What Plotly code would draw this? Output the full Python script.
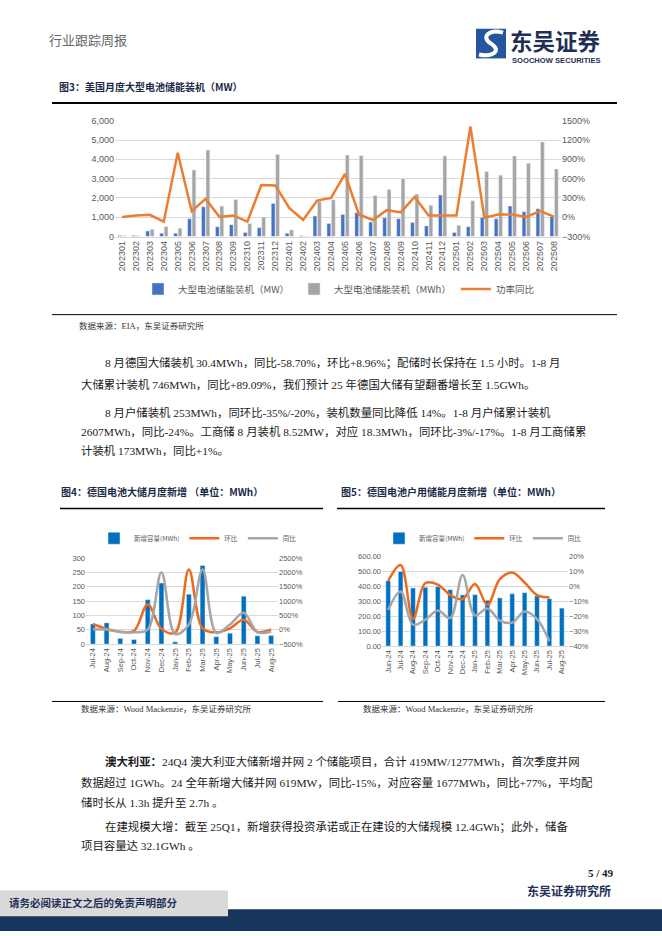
import plotly.graph_objects as go

W, H = 662, 936
def X(p): return p / W
def Y(p): return 1 - p / H

SANS = "Liberation Sans, Noto Sans CJK SC, sans-serif"
SERIF = "Liberation Serif, Noto Sans CJK SC, serif"
CJK = "Noto Sans CJK SC, sans-serif"

# ---------------- data: chart 3 (US monthly utility-scale battery storage) ----------------
months3 = ["202301", "202302", "202303", "202304", "202305", "202306", "202307", "202308",
           "202309", "202310", "202311", "202312", "202401", "202402", "202403", "202404",
           "202405", "202406", "202407", "202408", "202409", "202410", "202411", "202412",
           "202501", "202502", "202503", "202504", "202505", "202506", "202507", "202508"]
mw3 = [50, 50, 290, 170, 170, 920, 1540, 500, 615, 205, 460, 1710, 170, 35, 1060, 680,
       1145, 1230, 750, 975, 920, 720, 550, 2150, 205, 510, 990, 920, 1575, 1280, 1435, 1025]
mwh3 = [40, 40, 375, 510, 430, 3450, 4480, 1575, 1915, 680, 1010, 4250, 340, 20, 1830, 1900,
        4220, 4190, 2120, 2430, 2990, 2190, 1620, 4170, 580, 1850, 3370, 3180, 4170, 3795, 4900, 3500]
yoy3 = [3, 28, 38, -69, 1002, 95, 285, 3, 28, -69, 500, 495, 146, -43, 259, 300,
        674, 43, -43, 110, 74, 315, 28, 28, 28, 1412, -8, 43, 43, 3, 95, 8]

# ---------------- data: chart 4 (Germany utility-scale) ----------------
months4 = ["Jul-24", "Aug-24", "Sep-24", "Oct-24", "Nov-24", "Dec-24", "Jan-25",
           "Feb-25", "Mar-25", "Apr-25", "May-25", "Jun-25", "Jul-25", "Aug-25"]
cap4 = [70, 74, 20, 16, 155, 213, 8, 174, 274, 26, 38, 167, 29, 30]
mom4 = [200, 30, -70, -40, 880, 30, -100, 2100, 50, -90, 50, 350, -80, 10]
yoy4 = [20, 5, -75, -86, 5, 2000, -150, 180, 2100, -110, 180, 590, -86, -59]

# ---------------- data: chart 5 (Germany residential) ----------------
months5 = ["Jun-24", "Jul-24", "Aug-24", "Sep-24", "Oct-24", "Nov-24", "Dec-24", "Jan-25",
           "Feb-25", "Mar-25", "Apr-25", "May-25", "Jun-25", "Jul-25", "Aug-25"]
cap5 = [435, 497, 387, 392, 396, 376, 341, 343, 305, 321, 349, 356, 334, 316, 253]
mom5 = [3.5, 14, -22, 2, 1, -6, -8.6, 1.3, -12.5, 4.6, 9, 2.4, -6, -7.5, None]
yoy5 = [-16, -3.7, -25.7, -22.4, -16.3, -21.3, 7.3, -19.6, -15, -23, -24.4, -17, -22, -36.7, None]

fig = go.Figure()

# chart 3
fig.add_trace(go.Bar(x=months3, y=mw3, name="大型电池储能装机（MW）", marker_color="#4472C4",
                     width=0.27, offset=-0.29, xaxis="x", yaxis="y", legend="legend"))
fig.add_trace(go.Bar(x=months3, y=mwh3, name="大型电池储能装机（MWh）", marker_color="#A5A5A5",
                     width=0.27, offset=0.03, xaxis="x", yaxis="y", legend="legend"))
fig.add_trace(go.Scatter(x=months3, y=yoy3, name="功率同比", mode="lines",
                         line=dict(color="#ED7D31", width=2.5), xaxis="x", yaxis="y2", legend="legend"))

# chart 4
fig.add_trace(go.Bar(x=months4, y=cap4, name="新增容量(MWh)", marker_color="#0070C0",
                     width=0.36, xaxis="x2", yaxis="y3", legend="legend2"))
fig.add_trace(go.Scatter(x=months4, y=mom4, name="环比", mode="lines", line_shape="spline",
                         line=dict(color="#EE6A1F", width=2.5), xaxis="x2", yaxis="y4", legend="legend2"))
fig.add_trace(go.Scatter(x=months4, y=yoy4, name="同比", mode="lines", line_shape="spline",
                         line=dict(color="#A6A6A6", width=2.5), xaxis="x2", yaxis="y4", legend="legend2"))

# chart 5
fig.add_trace(go.Bar(x=months5, y=cap5, name="新增容量(MWh)", marker_color="#0070C0",
                     width=0.38, xaxis="x3", yaxis="y5", legend="legend3"))
fig.add_trace(go.Scatter(x=months5, y=mom5, name="环比", mode="lines", line_shape="spline",
                         line=dict(color="#EE6A1F", width=2.5), xaxis="x3", yaxis="y6", legend="legend3"))
fig.add_trace(go.Scatter(x=months5, y=yoy5, name="同比", mode="lines", line_shape="spline",
                         line=dict(color="#A6A6A6", width=2.5), xaxis="x3", yaxis="y6", legend="legend3"))

tick9 = dict(family=SANS, size=9, color="#595959")
tick7 = dict(family=SANS, size=7.5, color="#595959")
grid = "#D9D9D9"

def xax(dom, anchor, font):
    return dict(domain=[X(dom[0]), X(dom[1])], anchor=anchor, type="category", tickangle=-90,
                tickfont=font, showline=True, linecolor="#D9D9D9", linewidth=1, ticks="",
                showgrid=False, zeroline=False, fixedrange=True)

def yax(dom, anchor, rng, dtick, font, fmt=None):
    d = dict(domain=[Y(dom[0]), Y(dom[1])], anchor=anchor, range=rng, dtick=dtick, tickfont=font,
             showgrid=True, gridcolor=grid, gridwidth=1, zeroline=False, showline=False, ticks="",
             fixedrange=True)
    if fmt:
        d["tickformat"] = fmt
    return d

def yax_r(over, anchor, rng, dtick, font):
    return dict(overlaying=over, side="right", anchor=anchor, range=rng, dtick=dtick,
                ticksuffix="%", tickfont=font, showgrid=False, zeroline=False, showline=False, ticks="",
                fixedrange=True)

legend_common = dict(orientation="h", xanchor="left", yanchor="middle", bgcolor="rgba(0,0,0,0)",
                     itemwidth=30, tracegroupgap=0)

fig.update_layout(
    width=W, height=H, margin=dict(l=0, r=0, t=0, b=0),
    paper_bgcolor="white", plot_bgcolor="rgba(0,0,0,0)",
    barmode="overlay", showlegend=True, hovermode=False,
    xaxis=xax((115, 561), "y", tick9),
    yaxis=yax((234, 117), "x", [0, 6000], 1000, tick9, ","),
    yaxis2=yax_r("y", "x", [-300, 1500], 300, tick9),
    xaxis2=xax((86, 278), "y3", tick7),
    yaxis3=yax((646, 559), "x2", [0, 300], 50, tick7),
    yaxis4=yax_r("y3", "x2", [-500, 2500], 500, tick7),
    xaxis3=xax((382, 568), "y5", tick7),
    yaxis5=yax((648, 557), "x3", [0, 600], 100, tick7, ".2f"),
    yaxis6=yax_r("y5", "x3", [-40, 20], 10, tick7),
    legend=dict(x=X(138), y=Y(287), font=dict(family=CJK, size=9.5, color="#595959"), **legend_common),
    legend2=dict(x=X(94), y=Y(539), font=dict(family=CJK, size=6.5, color="#595959"), **legend_common),
    legend3=dict(x=X(379), y=Y(539), font=dict(family=CJK, size=6.5, color="#595959"), **legend_common),
)

# ---------------- page text ----------------
anns = []
def txt(x, y, s, size=11, color="#1a1a1a", family=SERIF, xanchor="left"):
    anns.append(dict(x=X(x), y=Y(y), xref="paper", yref="paper", text=s, showarrow=False,
                     xanchor=xanchor, yanchor="middle", borderpad=0,
                     font=dict(size=size, color=color, family=family)))

txt(48, 35, "行业跟踪周报", size=13, color="#666666", family=CJK)
txt(509, 35, "<b>东吴证券</b>", size=22.5, color="#1E3057", family=CJK)
txt(511, 56, "<b>SOOCHOW SECURITIES</b>", size=7.6, color="#1E3057", family=SANS)

txt(58, 82, "<b>图3：美国月度大型电池储能装机（MW）</b>", size=10, color="#1B2A4A", family=CJK)
txt(78, 324, "数据来源：EIA，东吴证券研究所", size=8.5, color="#333333", family=SERIF)

body = 11.4
txt(104, 361, "8 月德国大储装机 30.4MWh，同比-58.70%，环比+8.96%；配储时长保持在 1.5 小时。1-8 月", body)
txt(80, 384, "大储累计装机 746MWh，同比+89.09%，我们预计 25 年德国大储有望翻番增长至 1.5GWh。", body)
txt(104, 412, "8 月户储装机 253MWh，同环比-35%/-20%，装机数量同比降低 14%。1-8 月户储累计装机", body)
txt(80, 431, "2607MWh，同比-24%。工商储 8 月装机 8.52MW，对应 18.3MWh，同环比-3%/-17%。1-8 月工商储累", body)
txt(80, 450, "计装机 173MWh，同比+1%。", body)

txt(60, 492, "<b>图4：德国电池大储月度新增 （单位：MWh）</b>", size=10, color="#1B2A4A", family=CJK)
txt(340, 492, "<b>图5：德国电池户用储能月度新增（单位：MWh）</b>", size=10, color="#1B2A4A", family=CJK)
txt(80, 712, "数据来源：Wood Mackenzie，东吴证券研究所", size=8.5, color="#333333", family=SERIF)
txt(362, 712, "数据来源：Wood Mackenzie，东吴证券研究所", size=8.5, color="#333333", family=SERIF)

txt(104, 765, "<b>澳大利亚：</b>24Q4 澳大利亚大储新增并网 2 个储能项目，合计 419MW/1277MWh，首次季度并网", body)
txt(80, 786, "数据超过 1GWh。24 全年新增大储并网 619MW，同比-15%，对应容量 1677MWh，同比+77%，平均配", body)
txt(80, 806, "储时长从 1.3h 提升至 2.7h 。", body)
txt(104, 830, "在建规模大增：截至 25Q1，新增获得投资承诺或正在建设的大储规模 12.4GWh；此外，储备", body)
txt(80, 850, "项目容量达 32.1GWh 。", body)

txt(615, 877, "<b>5 / 49</b>", size=11, color="#1a1a1a", family=SERIF, xanchor="right")
txt(612, 895, "<b>东吴证券研究所</b>", size=12, color="#1E3057", family=CJK, xanchor="right")
txt(8, 907, "<b>请务必阅读正文之后的免责声明部分</b>", size=10.5, color="#1E3057", family=CJK)

# ---------------- page shapes ----------------
shapes = []
def hline(y, x0, x1, w=1, color="#000000"):
    shapes.append(dict(type="line", xref="paper", yref="paper", x0=X(x0), x1=X(x1), y0=Y(y), y1=Y(y),
                       line=dict(color=color, width=w)))
def rect(x0, y0, x1, y1, color, layer="below"):
    shapes.append(dict(type="rect", xref="paper", yref="paper", x0=X(x0), x1=X(x1), y0=Y(y1), y1=Y(y0),
                       fillcolor=color, line=dict(width=0), layer=layer))

hline(99, 52, 617, 2)
hline(313, 52, 617, 1)
hline(509, 60, 323, 1.5)
hline(509, 337, 605, 1.5)
hline(704, 52, 323, 1)
hline(704, 338, 605, 1)

# footer bands
rect(0, 914, 662, 936, "#17365D")
rect(0, 895, 228, 921, "#D9D9D9", layer="above")

# logo icon
rect(476, 24, 506, 54, "#24559E", layer="above")
pth = "M {a},{b} C {c},{d} {e},{f} {g},{h} S {i},{j} {k},{l}".format(
    a=X(503), b=Y(28), c=X(490), d=Y(24), e=X(480), f=Y(32), g=X(491), h=Y(39),
    i=X(493), j=Y(53), k=X(479), l=Y(50))
shapes.append(dict(type="path", xref="paper", yref="paper", path=pth,
                   line=dict(color="white", width=4), layer="above"))

fig.update_layout(annotations=anns, shapes=shapes)

fig.write_html("out.html", config={"displayModeBar": False, "staticPlot": True},
               post_script="document.body.style.margin='0';document.body.style.overflow='hidden';")
